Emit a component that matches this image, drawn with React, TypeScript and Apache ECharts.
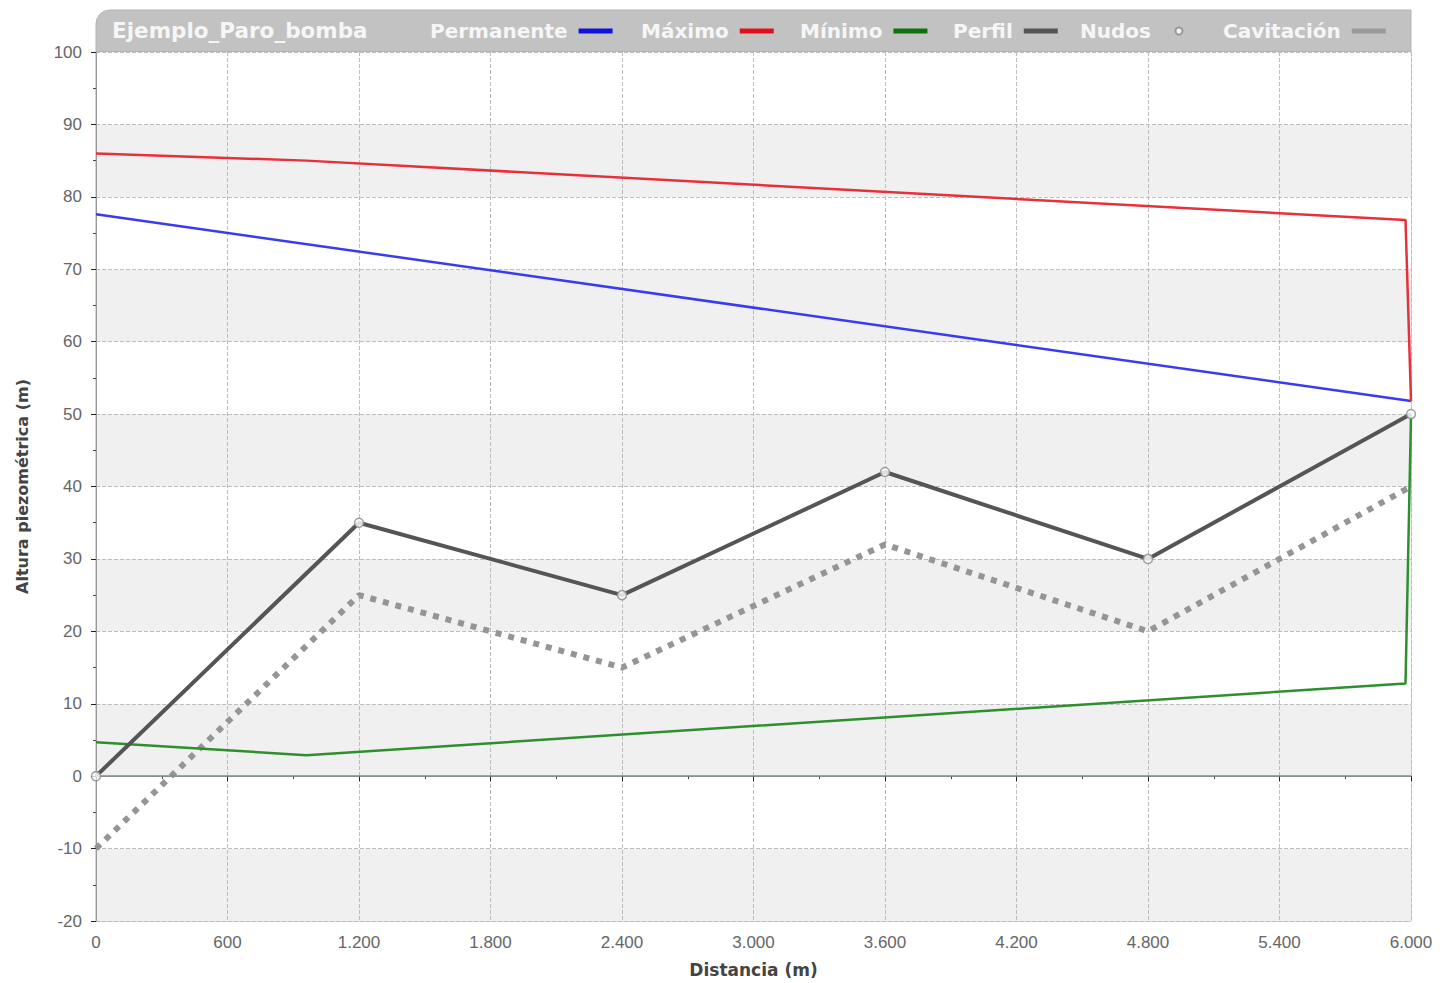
import React, { useEffect, useRef } from "react";
import * as echarts from "echarts";

const chartTitle = "Ejemplo_Paro_bomba";
const legendNames = ["Permanente", "Máximo", "Mínimo", "Perfil", "Nudos", "Cavitación"];

const permanenteX = [0, 6000];
const permanenteY = [77.6, 51.8];

const maximoX = [0, 960, 5975, 6000];
const maximoY = [86.0, 85.0, 76.8, 51.8];

const minimoX = [0, 960, 5975, 6000];
const minimoY = [4.7, 2.9, 12.8, 49.7];

const perfilX = [0, 1200, 2400, 3600, 4800, 6000];
const perfilY = [0, 35, 25, 42, 30, 50];

const cavitacionX = [0, 1200, 2400, 3600, 4800, 6000];
const cavitacionY = [-10, 25, 15, 32, 20, 40];

const zip = (xs: number[], ys: number[]) => xs.map((x, i) => [x, ys[i]]);
const fmtThousands = (v: number) => String(v).replace(/\B(?=(\d{3})+(?!\d))/g, ".");

export default function App() {
  const ref = useRef<HTMLDivElement>(null);
  useEffect(() => {
    if (!ref.current) return;
    const chart = echarts.init(ref.current, undefined, { renderer: "svg" });
    const legendFont = {
      color: "#f6f6f6",
      fontSize: 20,
      fontWeight: "bold",
      fontFamily: "DejaVu Sans",
      padding: [0, 6, 0, 0],
    };
    const legendLefts = [425, 636, 795, 948, 1075, 1218];
    const legends = legendNames.map((n, i) => ({
      data: [n],
      left: legendLefts[i],
      top: 16,
      align: "right",
      itemWidth: 34,
      itemHeight: i === 4 ? 7 : 5,
      icon: i === 4 ? "circle" : "rect",
      textStyle: legendFont,
      selectedMode: false,
    }));
    const option: any = {
      animation: false,
      backgroundColor: "#ffffff",
      title: {
        text: chartTitle,
        left: 107,
        top: 14,
        textStyle: { color: "#f6f6f6", fontSize: 21.5, fontWeight: "bold", fontFamily: "DejaVu Sans" },
      },
      legend: legends,
      graphic: [
        {
          type: "rect",
          z: -1,
          shape: { x: 96, y: 10, width: 1315, height: 42, r: [14, 0, 0, 0] },
          style: { fill: "#c2c2c2", stroke: "#b4b4b4", lineWidth: 1 },
        },
      ],
      grid: { left: 96, right: 34, top: 52, bottom: 62, show: true, borderColor: "#aaaaaa", borderWidth: 1 },
      xAxis: {
        type: "value",
        min: 0,
        max: 6000,
        interval: 600,
        name: "Distancia (m)",
        nameLocation: "middle",
        nameGap: 40,
        nameTextStyle: { fontSize: 17, fontWeight: "bold", color: "#444", fontFamily: "DejaVu Sans" },
        axisLine: { show: true, lineStyle: { color: "#999", width: 1 } },
        axisTick: { show: true, length: 5, lineStyle: { color: "#222" } },
        minorTick: { show: true, splitNumber: 2, length: 3, lineStyle: { color: "#444" } },
        axisLabel: { formatter: (v: number) => fmtThousands(v), fontSize: 17, color: "#666", margin: 13, fontFamily: "Liberation Sans" },
        splitLine: { show: true, lineStyle: { type: "dashed", color: "#bdbdbd", width: 1 } },
      },
      yAxis: {
        type: "value",
        min: -20,
        max: 100,
        interval: 10,
        name: "Altura piezométrica (m)",
        nameLocation: "middle",
        nameGap: 66,
        nameTextStyle: { fontSize: 16, fontWeight: "bold", color: "#444", fontFamily: "DejaVu Sans" },
        axisLine: { show: true, lineStyle: { color: "#999", width: 1 } },
        axisTick: { show: true, length: 5, lineStyle: { color: "#222" } },
        minorTick: { show: true, splitNumber: 2, length: 3, lineStyle: { color: "#444" } },
        axisLabel: { fontSize: 17, color: "#666", margin: 14, fontFamily: "Liberation Sans" },
        splitLine: { show: true, lineStyle: { type: "dashed", color: "#bdbdbd", width: 1 } },
        splitArea: { show: true, areaStyle: { color: ["#f0f0f0", "#ffffff"] } },
      },
      series: [
        {
          name: "Permanente",
          type: "line",
          data: zip(permanenteX, permanenteY),
          showSymbol: false,
          color: "#1010e0",
          lineStyle: { color: "#3a3af0", width: 2.5 },
          z: 3,
        },
        {
          name: "Máximo",
          type: "line",
          data: zip(maximoX, maximoY),
          showSymbol: false,
          color: "#e0101a",
          lineStyle: { color: "#e8303a", width: 2.5 },
          z: 3,
        },
        {
          name: "Mínimo",
          type: "line",
          data: zip(minimoX, minimoY),
          showSymbol: false,
          color: "#107010",
          lineStyle: { color: "#2e8f2e", width: 2.5 },
          z: 3,
          markLine: {
            silent: true,
            symbol: "none",
            label: { show: false },
            lineStyle: { color: "#7f8f80", type: "solid", width: 1.5 },
            data: [{ yAxis: 0 }],
          },
        },
        {
          name: "Perfil",
          type: "line",
          data: zip(perfilX, perfilY),
          showSymbol: false,
          color: "#555555",
          lineStyle: { color: "#555555", width: 4 },
          z: 4,
        },
        {
          name: "Nudos",
          type: "scatter",
          data: zip(perfilX, perfilY),
          symbol: "circle",
          symbolSize: 9,
          itemStyle: { color: "#ffffff", borderColor: "#8a8a8a", borderWidth: 1.5 },
          z: 6,
        },
        {
          name: "Cavitación",
          type: "line",
          data: zip(cavitacionX, cavitacionY),
          showSymbol: false,
          color: "#9a9a9a",
          lineStyle: { color: "#959595", width: 6, type: [6, 7], cap: "butt" },
          z: 2,
        },
      ],
    };
    chart.setOption(option);
    return () => chart.dispose();
  }, []);
  return (
    <div
      ref={ref}
      style={{ position: "absolute", left: 0, top: 0, width: 1445, height: 983 }}
    />
  );
}
